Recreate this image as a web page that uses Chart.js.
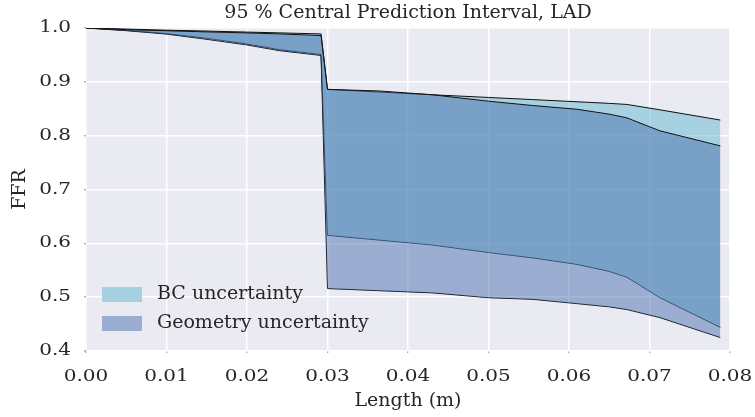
<html>
  <head>
    <script src="https://cdn.jsdelivr.net/npm/chart.js"></script>
    <style>
      body { margin: 0; background: #ffffff; }
      #chart_div { width: 755px; height: 417px; }
    </style>
  </head>
  <body>
    <div id="chart_div"><canvas id="ffrChart" width="755" height="417"></canvas></div>
    <script>
      // length along the vessel (m)
      var lengths  = [0, 0.005, 0.0098, 0.0145, 0.0198, 0.0240, 0.0292, 0.0300, 0.0365, 0.0430, 0.0500, 0.0555, 0.0610, 0.0650, 0.0672, 0.0713, 0.0788];
      // 95 % interval bounds
      var bcUpper  = [1.0, 0.998, 0.996, 0.9945, 0.9925, 0.991, 0.989, 0.886, 0.881, 0.876, 0.871, 0.867, 0.863, 0.860, 0.858, 0.848, 0.829];
      var bcLower  = [1.0, 0.996, 0.990, 0.982, 0.971, 0.960, 0.951, 0.615, 0.606, 0.597, 0.583, 0.573, 0.561, 0.548, 0.537, 0.499, 0.444];
      var geoUpper = [1.0, 0.997, 0.995, 0.993, 0.991, 0.989, 0.986, 0.886, 0.883, 0.876, 0.864, 0.856, 0.849, 0.840, 0.833, 0.809, 0.781];
      var geoLower = [1.0, 0.995, 0.989, 0.980, 0.969, 0.958, 0.949, 0.516, 0.512, 0.508, 0.499, 0.496, 0.488, 0.482, 0.477, 0.462, 0.425];
      var xTicks = [0, 0.01, 0.02, 0.03, 0.04, 0.05, 0.06, 0.07, 0.08];
      var yTicks = [0.4, 0.5, 0.6, 0.7, 0.8, 0.9, 1.0];

      var serif = "'DejaVu Serif', serif";
      var textColor = '#262626';

      function toPoints(ys) {
        return lengths.map(function (x, i) { return { x: x, y: ys[i] }; });
      }

      var canvas = document.getElementById('ffrChart');
      var ctx2d = canvas.getContext('2d');
      // tick labels in the original are drawn wider than the font: stretch the 16px ones
      var baseFillText = ctx2d.fillText;
      ctx2d.fillText = function (text, x, y, maxWidth) {
        if (this.font.indexOf('16px') === -1) return baseFillText.call(this, text, x, y, maxWidth);
        this.save();
        this.translate(x, y);
        this.scale(1.25, 1);
        baseFillText.call(this, text, 0, 0);
        this.restore();
      };

      var plotBackground = {
        id: 'plotBackground',
        beforeDraw: function (chart) {
          var a = chart.chartArea, ctx = chart.ctx;
          ctx.save();
          ctx.fillStyle = '#eaeaf2';
          ctx.fillRect(a.left, a.top, a.right - a.left, a.bottom - a.top);
          ctx.restore();
        }
      };

      // title and legend, drawn after the chart
      var extras = {
        id: 'extras',
        afterDraw: function (chart) {
          var a = chart.chartArea, ctx = chart.ctx;
          ctx.save();
          ctx.fillStyle = textColor;
          ctx.font = '19px ' + serif;
          ctx.textAlign = 'center';
          ctx.textBaseline = 'middle';
          ctx.fillText('95 % Central Prediction Interval, LAD', (a.left + a.right) / 2, 13);

          var items = chart.data.datasets.filter(function (d) { return d.label; }).reverse();
          ctx.textAlign = 'left';
          items.forEach(function (d, i) {
            var y = a.top + 266.5 + i * 29;
            ctx.fillStyle = '#eaeaf2';
            ctx.fillRect(a.left + 16, y - 7.5, 40, 15);
            ctx.fillStyle = d.backgroundColor;
            ctx.fillRect(a.left + 16, y - 7.5, 40, 15);
            ctx.fillStyle = textColor;
            ctx.fillText(d.label, a.left + 71, y);
          });
          ctx.restore();
        }
      };

      var line = { borderColor: '#111111', borderWidth: 1, pointRadius: 0, tension: 0 };

      new Chart(canvas, {
        type: 'line',
        data: {
          datasets: [
            Object.assign({ label: 'Geometry uncertainty', data: toPoints(geoUpper), fill: '+1', backgroundColor: 'rgba(76,114,176,0.5)' }, line),
            Object.assign({ data: toPoints(geoLower), fill: false }, line),
            Object.assign({ label: 'BC uncertainty', data: toPoints(bcUpper), fill: '+1', backgroundColor: 'rgba(100,181,205,0.5)' }, line),
            Object.assign({ data: toPoints(bcLower), fill: false }, line)
          ]
        },
        options: {
          responsive: false,
          animation: false,
          layout: { padding: { top: 28, right: 25, left: 0, bottom: 0 } },
          plugins: {
            legend: { display: false },
            tooltip: { enabled: false }
          },
          scales: {
            x: {
              type: 'linear',
              min: 0,
              max: 0.08,
              afterBuildTicks: function (s) { s.ticks = xTicks.map(function (v) { return { value: v }; }); },
              afterFit: function (s) { s.height = 66; s.paddingLeft = 0; s.paddingRight = 0; },
              grid: { color: '#ffffff', lineWidth: 1.5, drawTicks: true, tickLength: 2, tickColor: 'rgba(38,38,38,0.5)', tickWidth: 1 },
              border: { display: false },
              ticks: {
                autoSkip: false, maxRotation: 0, padding: 14, color: textColor,
                font: { family: serif, size: 16 },
                callback: function (v) { return v.toFixed(2); }
              },
              title: { display: true, text: 'Length (m)', color: textColor, font: { family: serif, size: 19 }, padding: { top: 0, bottom: 5 } }
            },
            y: {
              min: 0.4,
              max: 1.0,
              afterBuildTicks: function (s) { s.ticks = yTicks.map(function (v) { return { value: v }; }); },
              afterFit: function (s) { s.width = 86; s.paddingTop = 0; s.paddingBottom = 0; },
              grid: { color: '#ffffff', lineWidth: 1.5, drawTicks: true, tickLength: 2, tickColor: 'rgba(38,38,38,0.5)', tickWidth: 1 },
              border: { display: false },
              ticks: {
                autoSkip: false, padding: 13, color: textColor,
                font: { family: serif, size: 16 },
                callback: function (v) { return v.toFixed(1); }
              },
              title: { display: true, text: 'FFR', color: textColor, font: { family: serif, size: 19 }, padding: { top: 9, bottom: 0 } }
            }
          }
        },
        plugins: [plotBackground, extras]
      });
    </script>
  </body>
</html>
